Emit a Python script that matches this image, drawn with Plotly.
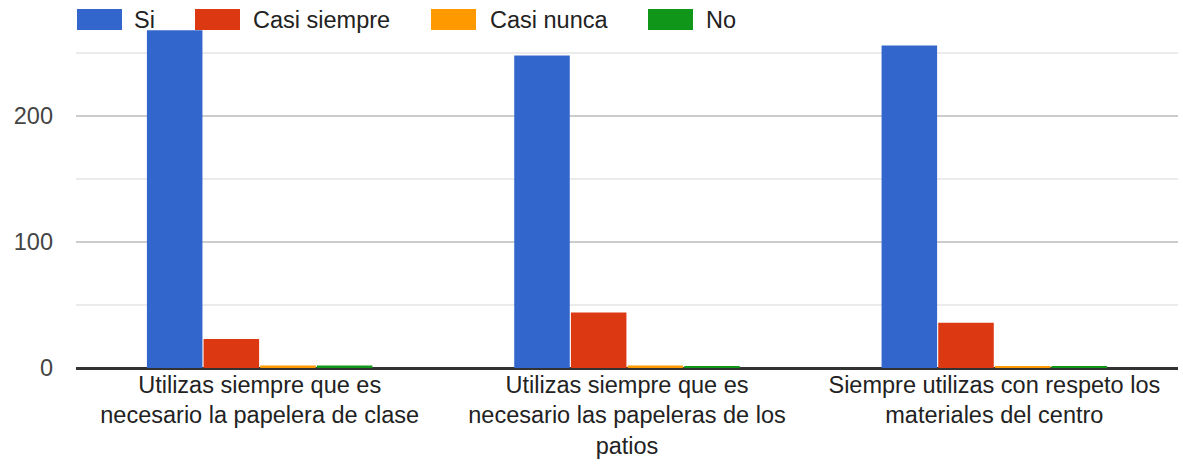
import plotly.graph_objects as go

categories = [
    "Utilizas siempre que es<br>necesario la papelera de clase",
    "Utilizas siempre que es<br>necesario las papeleras de los<br>patios",
    "Siempre utilizas con respeto los<br>materiales del centro",
]
series_names = ["Si", "Casi siempre", "Casi nunca", "No"]
si_values = [268, 248, 256]
casi_siempre_values = [23, 44, 36]
casi_nunca_values = [2, 2, 1]
no_values = [2, 1, 1]
colors = ["#3366cc", "#dc3912", "#ff9900", "#109618"]

W, H = 1183, 468
ML, MR, MT, MB = 76, 5, 21, 100
FONT = "Arial, Liberation Sans, sans-serif"

fig = go.Figure()
for name, vals, col in zip(series_names,
                           [si_values, casi_siempre_values, casi_nunca_values, no_values],
                           colors):
    fig.add_trace(go.Bar(x=categories, y=vals, name=name, showlegend=False,
                         marker=dict(color=col, line=dict(width=0))))

# custom legend (wide swatches like the reference)
pw, ph = W - ML - MR, H - MT - MB
def px_x(p):
    return (p - ML) / pw
def px_y(p):
    return (H - MB - p) / ph

legend_swatch_left = [77, 195, 431, 648]
legend_text_left = [132, 251, 488, 704]
for name, col, sx, tx in zip(series_names, colors, legend_swatch_left, legend_text_left):
    fig.add_shape(type="rect", xref="paper", yref="paper",
                  x0=px_x(sx), x1=px_x(sx + 45), y0=px_y(30), y1=px_y(9),
                  fillcolor=col, line=dict(width=0), layer="above")
    fig.add_annotation(xref="paper", yref="paper", x=px_x(tx), y=px_y(20),
                       xanchor="left", yanchor="middle", text=name, showarrow=False,
                       font=dict(family=FONT, size=23.5, color="#222222"))

fig.update_layout(
    width=W, height=H,
    margin=dict(l=ML, r=MR, t=MT, b=MB, autoexpand=False),
    barmode="group", bargap=0.383, bargroupgap=0.02,
    plot_bgcolor="white", paper_bgcolor="white",
    font=dict(family=FONT, size=23.5, color="#444444"),
    showlegend=False,
)
fig.update_yaxes(range=[0, ph / 1.26], dtick=100, tick0=0, showgrid=True,
                 gridcolor="#cccccc", gridwidth=2,
                 minor=dict(dtick=50, tick0=0, showgrid=True, gridcolor="#ebebeb", gridwidth=2),
                 zeroline=True, zerolinecolor="#333333", zerolinewidth=3,
                 ticklabelstandoff=22, showline=False,
                 tickfont=dict(family=FONT, size=23.5, color="#444444"))
fig.update_xaxes(showgrid=False, showline=False, tickangle=0, automargin=False,
                 tickfont=dict(family=FONT, size=23.5, color="#222222"))

fig.write_html("out.html", config={"displayModeBar": False},
               post_script="document.body.style.margin='0';document.body.style.overflow='hidden';")
